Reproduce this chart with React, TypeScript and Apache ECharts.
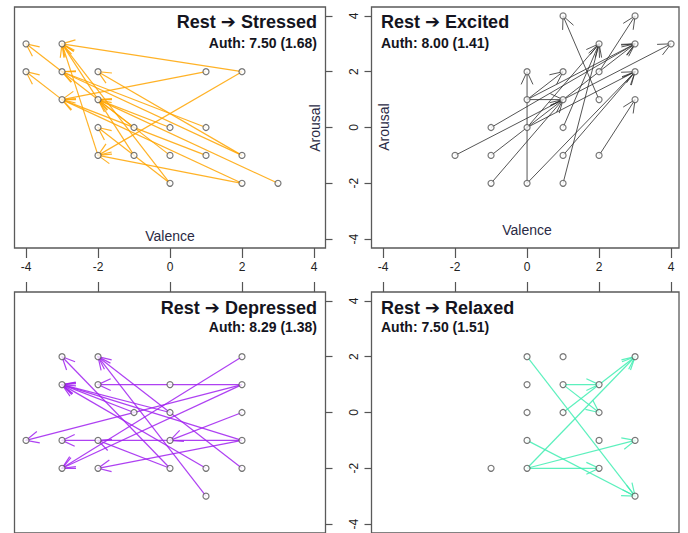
import React, { useEffect, useRef } from "react";
import * as echarts from "echarts";

// ---------- data ----------
const panelTitles = ["Rest ➔ Stressed", "Rest ➔ Excited", "Rest ➔ Depressed", "Rest ➔ Relaxed"];
const authLabels = ["Auth: 7.50 (1.68)", "Auth: 8.00 (1.41)", "Auth: 8.29 (1.38)", "Auth: 7.50 (1.51)"];
const tickValues = [-4, -2, 0, 2, 4];
const xAxisTitle = "Valence";
const yAxisTitle = "Arousal";

// points [valence, arousal]
const stressedPoints = [
  [-4, 3], [-3, 3], [-4, 2], [-3, 2], [-2, 2], [1, 2], [2, 2], [-3, 1], [-2, 1],
  [-2, 0], [-1, 0], [0, 0], [1, 0], [-2, -1], [-1, -1], [0, -1], [1, -1], [2, -1],
  [0, -2], [2, -2], [3, -2],
];
// arrows [fromV, fromA, toV, toA]
const stressedArrows = [
  [2, 2, -3, 3], [1, 2, -3, 1], [2, 2, -2, -1], [2, -2, -2, -1], [3, -2, -2, 1],
  [2, -2, -3, 1], [2, -1, -2, 2], [1, 0, -3, 2], [1, -1, -3, 1], [0, -1, -2, 1],
  [0, 0, -2, 1], [-1, 0, -4, 3], [0, -2, -2, 0], [0, -2, -3, 3], [-2, -1, -3, 3],
  [-1, -1, -3, 3], [-3, 1, -4, 2], [2, -1, -3, 2],
];

const excitedPoints = [
  [-2, -1], [-1, 0], [-1, -1], [-1, -2], [0, 2], [0, 1], [0, 0], [0, -2], [1, 4],
  [1, 2], [1, 1], [1, 0], [1, -1], [1, -2], [2, 3], [2, 2], [2, 1], [2, -1],
  [3, 4], [3, 3], [3, 2], [3, 1], [4, 3],
];
const excitedArrows = [
  [0, -2, 0, 2], [0, 1, 1, 1], [2, 1, 1, 4], [-2, -1, 4, 3], [-1, 0, 3, 3],
  [-1, -1, 1, 1], [-1, -2, 1, 1], [0, 0, 3, 2], [0, 1, 3, 3], [0, 1, 1, 2],
  [0, -2, 3, 2], [1, 0, 2, 3], [1, -1, 3, 2], [1, -2, 2, 3], [2, -1, 3, 1],
  [2, 2, 3, 4], [1, 1, 3, 3], [0, 0, 2, 3],
];

const depressedPoints = [
  [-3, 2], [-2, 2], [2, 2], [-3, 1], [-2, 1], [0, 1], [2, 1], [-1, 0], [0, 0],
  [2, 0], [-4, -1], [-3, -1], [-2, -1], [0, -1], [2, -1], [-3, -2], [-2, -2],
  [0, -2], [1, -2], [2, -2], [1, -3],
];
const depressedArrows = [
  [2, 1, -2, 1], [2, -1, -3, -1], [2, 2, -3, -2], [2, 1, -3, -2], [2, 0, 0, -1],
  [2, 1, -4, -1], [2, -1, -3, 1], [2, -2, -2, 2], [0, -2, -3, 2], [1, -3, -2, 2],
  [1, -2, -3, 1], [2, -1, -2, -2], [0, 0, -3, 1], [0, -2, -2, -1], [-1, 0, -3, 1],
];

const relaxedPoints = [
  [0, 2], [1, 2], [3, 2], [0, 1], [1, 1], [2, 1], [0, 0], [1, 0], [2, 0],
  [0, -1], [2, -1], [3, -1], [-1, -2], [0, -2], [2, -2], [3, -3],
];
const relaxedArrows = [
  [0, 2, 3, -3], [1, 1, 2, 1], [1, 1, 2, 0], [0, -2, 3, 2], [1, 0, 3, 2],
  [0, -2, 3, -1], [0, -2, 2, -2], [0, -1, 3, -3],
];

const arrowColors = ["#FFA500", "#2a2a2a", "#A020F0", "#3FEDB2"];

// ---------- layout ----------
const FONT = "'Liberation Sans', Arial, 'DejaVu Sans', sans-serif";
const grids = [
  { left: 14.5, top: 7, width: 311, height: 241 },
  { left: 371.5, top: 7, width: 307.5, height: 241 },
  { left: 14.5, top: 292, width: 311, height: 242 },
  { left: 371.5, top: 292, width: 307.5, height: 242 },
];
const xMax = [4.32, 4.22, 4.32, 4.22];

function arrowRenderer(color: string, width: number, opacity: number) {
  return (params: any, api: any) => {
    const p0 = api.coord([api.value(0), api.value(1)]);
    const p1 = api.coord([api.value(2), api.value(3)]);
    const ang = Math.atan2(p1[1] - p0[1], p1[0] - p0[0]);
    const L = 14;
    const a = (25 * Math.PI) / 180;
    const h1 = [p1[0] - L * Math.cos(ang - a), p1[1] - L * Math.sin(ang - a)];
    const h2 = [p1[0] - L * Math.cos(ang + a), p1[1] - L * Math.sin(ang + a)];
    const style = { stroke: color, lineWidth: width, fill: "none", opacity };
    return {
      type: "group",
      children: [
        { type: "line", shape: { x1: p0[0], y1: p0[1], x2: p1[0], y2: p1[1] }, style },
        { type: "polyline", shape: { points: [h1, p1, h2] }, style },
      ],
    };
  };
}

export default function App() {
  const ref = useRef<HTMLDivElement>(null);
  useEffect(() => {
    if (!ref.current) return;
    const chart = echarts.init(ref.current, undefined, { renderer: "svg" });
    const pointsList = [stressedPoints, excitedPoints, depressedPoints, relaxedPoints];
    const arrowsList = [stressedArrows, excitedArrows, depressedArrows, relaxedArrows];

    const xPos = ["bottom", "bottom", "top", "top"];
    const yPos = ["right", "left", "right", "left"];
    const xLabelShow = [true, true, false, false];
    const yLabelShow = [false, true, false, true];

    const xAxes = grids.map((_, i) => ({
      type: "value",
      gridIndex: i,
      min: -4.32,
      max: xMax[i],
      position: xPos[i],
      axisLine: { show: false, onZero: false },
      splitLine: { show: false },
      axisTick: {
        show: true,
        length: 10,
        customValues: tickValues,
        lineStyle: { color: "#555", width: 1.2 },
      },
      axisLabel: {
        show: xLabelShow[i],
        customValues: tickValues,
        margin: 13,
        color: "#222",
        fontSize: 12,
        fontFamily: FONT,
      },
    }));
    const yAxes = grids.map((_, i) => ({
      type: "value",
      gridIndex: i,
      min: -4.32,
      max: 4.32,
      position: yPos[i],
      axisLine: { show: false, onZero: false },
      splitLine: { show: false },
      axisTick: {
        show: true,
        length: 7,
        customValues: tickValues,
        lineStyle: { color: "#555", width: 1.2 },
      },
      axisLabel: {
        show: yLabelShow[i],
        customValues: tickValues,
        rotate: 90,
        margin: 12,
        color: "#222",
        fontSize: 12,
        fontFamily: FONT,
      },
    }));

    const series: any[] = [];
    grids.forEach((_, i) => {
      series.push({
        type: "custom",
        xAxisIndex: i,
        yAxisIndex: i,
        renderItem: arrowRenderer(arrowColors[i], i === 1 ? 1 : 1.2, i === 1 ? 0.8 : 0.85),
        data: arrowsList[i],
        encode: { x: [0, 2], y: [1, 3] },
        z: 2,
        silent: true,
      });
      series.push({
        type: "scatter",
        xAxisIndex: i,
        yAxisIndex: i,
        data: pointsList[i],
        symbol: "circle",
        symbolSize: 6,
        itemStyle: { color: "#fff", borderColor: "#555", borderWidth: 1.2 },
        z: 3,
        silent: true,
      });
    });

    const titleX = [317, 381, 317, 381];
    const titleY = [22, 22, 308, 308];
    const authY = [43, 43, 327, 327];
    const align = ["right", "left", "right", "left"];
    const graphic: any[] = [];
    grids.forEach((_, i) => {
      graphic.push({
        type: "text",
        x: titleX[i],
        y: titleY[i],
        style: {
          text: panelTitles[i],
          font: `bold 18px ${FONT}`,
          fill: "#141420",
          textAlign: align[i],
          textVerticalAlign: "middle",
        },
        z: 10,
      });
      graphic.push({
        type: "text",
        x: titleX[i],
        y: authY[i],
        style: {
          text: authLabels[i],
          font: `bold 14px ${FONT}`,
          fill: "#141420",
          textAlign: align[i],
          textVerticalAlign: "middle",
        },
        z: 10,
      });
    });
    // axis titles (only visible in the top row)
    const valPos = [[170, 236], [527, 230]];
    const aroPos = [[315, 128], [384, 127]];
    valPos.forEach((p) =>
      graphic.push({
        type: "text",
        x: p[0],
        y: p[1],
        style: {
          text: xAxisTitle,
          font: `14px ${FONT}`,
          fill: "#2a2a44",
          textAlign: "center",
          textVerticalAlign: "middle",
        },
      })
    );
    aroPos.forEach((p) =>
      graphic.push({
        type: "text",
        x: p[0],
        y: p[1],
        rotation: Math.PI / 2,
        style: {
          text: yAxisTitle,
          font: `14px ${FONT}`,
          fill: "#2a2a44",
          textAlign: "center",
          textVerticalAlign: "middle",
        },
      })
    );

    chart.setOption({
      animation: false,
      backgroundColor: "#fff",
      grid: grids.map((g) => ({
        ...g,
        show: true,
        borderColor: "#5a5a5a",
        borderWidth: 1.3,
        backgroundColor: "transparent",
      })),
      xAxis: xAxes,
      yAxis: yAxes,
      series,
      graphic,
    });
    return () => chart.dispose();
  }, []);
  return (
    <div
      ref={ref}
      style={{ position: "absolute", left: 0, top: 0, width: 688, height: 533, background: "#fff" }}
    />
  );
}
